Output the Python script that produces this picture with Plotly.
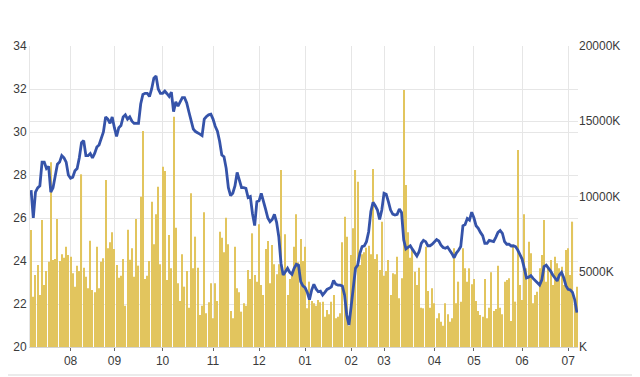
import plotly.graph_objects as go

# Daily closing price (left axis)
price = [
    27.3, 26.0, 27.2, 27.4, 27.5, 28.6, 28.6, 28.3, 28.4, 27.2,
    27.4, 27.9, 28.5, 28.6, 28.9, 28.8, 28.6, 28.0, 27.85, 27.9,
    28.2, 28.3, 28.8, 29.5, 29.6, 28.9, 28.9, 29.0, 28.8, 29.0,
    29.3, 29.4, 29.7, 30.0, 30.7, 30.6, 30.4, 30.7, 30.2, 29.8,
    30.2, 30.3, 30.7, 30.8, 30.6, 30.7, 30.5, 30.4, 30.4, 30.4,
    31.3, 31.75, 31.8, 31.8, 31.65, 32.0, 32.5, 32.6, 32.0, 31.8,
    31.8, 31.9, 31.78, 31.65, 31.85, 30.95, 31.4, 31.2, 31.4, 31.6,
    31.6, 31.35, 30.93, 30.5, 30.14, 30.02, 29.94, 29.9, 29.83, 30.6,
    30.72, 30.8, 30.83, 30.6, 30.27, 30.04, 29.57, 28.93, 28.85, 28.31,
    27.41, 27.04, 27.15, 27.49, 28.12, 27.69, 27.41, 27.41, 27.38, 26.95,
    27.0, 26.2, 25.65, 26.76, 26.8, 27.15, 26.7, 26.4, 26.0, 25.83,
    25.93, 26.17, 25.8, 25.13, 23.9, 23.35, 23.5, 23.66, 23.47, 23.38,
    23.66, 23.85, 23.8, 23.04, 22.84, 22.76, 22.54, 22.2, 22.65, 22.92,
    22.7, 22.57, 22.6, 22.42, 22.54, 22.68, 22.73, 22.8, 23.1, 22.92,
    22.88, 22.88, 22.84, 22.42, 21.49, 21.02, 21.88, 22.81, 23.66, 23.81,
    24.36, 24.67, 24.7, 24.9, 25.36, 26.3, 26.73, 26.57, 26.37, 25.93,
    26.37, 27.15, 27.1, 26.76, 26.37, 26.18, 26.14, 26.17, 26.42, 26.26,
    24.98, 24.56, 24.62, 24.71, 24.54, 24.4, 24.23, 24.43, 24.82, 24.96,
    24.9, 24.71, 24.71, 24.78, 24.9, 25.0, 24.93, 24.74, 24.63, 24.59,
    24.65, 24.51, 24.34, 24.15, 24.37, 24.5, 24.67, 25.64, 25.7, 25.98,
    25.9, 26.27, 26.01, 25.64, 25.52, 25.33, 25.18, 24.82, 24.82, 24.96,
    24.93, 24.9, 25.1, 25.33, 25.42, 25.29, 24.9, 24.78, 24.78, 24.7,
    24.71, 24.67, 24.51, 24.28, 24.09, 23.66, 23.21, 23.25, 23.32, 23.19,
    23.09, 22.98, 22.88, 23.12, 23.74, 23.81, 23.69, 23.53, 23.35, 23.22,
    23.07, 23.35, 23.47, 23.22, 22.85, 22.68, 22.65, 22.54, 22.2, 21.6,
]

# Daily volume in thousands (right axis)
volume_k = [
    7775, 3345, 4784, 5449, 3455, 8439, 4120, 5050, 5671, 12270,
    5781, 5848, 8506, 5715, 6158, 5936, 6667, 6113, 6003, 4895,
    4010, 5405, 5050, 11474, 5272, 4674, 3897, 7066, 3788, 3633,
    6667, 3897, 5671, 5892, 11097, 6556, 6955, 7620, 6512, 5449,
    4608, 4740, 5848, 2747, 7797, 5803, 6556, 4674, 8506, 5405,
    9990, 14353, 4519, 4740, 5715, 9657, 6822, 8815, 10654, 5493,
    11984, 11695, 4452, 7442, 5228, 15306, 7929, 4231, 3057, 6158,
    4010, 5050, 2614, 10211, 5228, 7332, 5272, 2126, 2747, 8949,
    2237, 2968, 4231, 1905, 4231, 3057, 7664, 7266, 6291, 8595,
    6822, 2392, 1905, 6667, 3897, 3633, 2348, 2902, 2747, 5117,
    4519, 7553, 4784, 4342, 8151, 4120, 3455, 6512, 7044, 4231,
    6778, 5493, 4829, 5493, 11762, 4895, 7487, 3455, 4519, 5006,
    6667, 8815, 5626, 7177, 5715, 6667, 2570, 4342, 3057, 2902,
    2747, 3123, 2968, 3013, 2016, 2459, 2170, 3013, 3455, 1905,
    2016, 2237, 6955, 8662, 7332, 1418, 6113, 7885, 11762, 10987,
    5449, 6158, 6291, 6600, 6733, 6158, 11828, 5848, 6158, 5117,
    8328, 4740, 5050, 5781, 3455, 4895, 4829, 6003, 3234, 4563,
    17078, 10765, 7620, 5936, 6446, 5006, 4120, 5272, 2614, 2570,
    6667, 3721, 2614, 3897, 2902, 1905, 2237, 1683, 1418, 2902,
    2170, 1683, 1905, 6556, 2902, 4342, 3013, 6556, 5228, 4342,
    5228, 4165, 4519, 3057, 2392, 2126, 2016, 4519, 1905, 2614,
    4962, 2392, 2525, 5405, 2614, 2170, 4342, 4452, 4563, 1728,
    6667, 3013, 13091, 4120, 3123, 8815, 5228, 6999, 6224, 2902,
    3455, 3677, 5228, 6113, 8439, 4342, 5228, 5781, 4120, 6003,
    5559, 5228, 5339, 4120, 6446, 6556, 4784, 8328, 2791, 4000,
]

# Month ticks: label and trading-day index of first session of the month
month_labels = ["08", "09", "10", "11", "12", "01", "02", "03", "04", "05", "06", "07"]
month_start_idx = [18, 38, 60, 83, 104, 125, 146, 161, 184, 202, 224, 245]

price_ticks = [20, 22, 24, 26, 28, 30, 32, 34]
volume_ticks = [0, 5000, 10000, 15000, 20000]
volume_tick_text = ["K", "5000K", "10000K", "15000K", "20000K"]

days = list(range(len(price)))

GRID = "#e6e6e6"
FONT = dict(family="Liberation Sans, Arial, sans-serif", size=12, color="#3a3a3a")

fig = go.Figure()
fig.add_trace(go.Bar(
    x=days, y=volume_k, yaxis="y",
    marker=dict(color="#e2c55e", line=dict(width=0)),
    hoverinfo="skip",
))
fig.add_trace(go.Scatter(
    x=days, y=price, yaxis="y2", mode="lines",
    line=dict(color="#3553a9", width=2.8),
))

# the page body adds an 8px margin, so the figure is 8px smaller than the window
fig.update_layout(
    width=632, height=369,
    margin=dict(l=22, r=62, t=38, b=30, pad=0, autoexpand=False),
    paper_bgcolor="white", plot_bgcolor="white",
    showlegend=False, bargap=0.5,
    font=FONT,
    xaxis=dict(
        range=[-0.5, len(days) - 0.5], automargin=False,
        tickmode="array", tickvals=month_start_idx, ticktext=month_labels,
        showgrid=True, gridcolor=GRID, gridwidth=1,
        ticks="outside", ticklen=3, tickcolor="#666", tickwidth=1,
        showline=True, linecolor="#d4d4d4", zeroline=False,
        tickfont=FONT,
    ),
    yaxis=dict(
        side="right", range=[0, 20000], automargin=False,
        tickmode="array", tickvals=volume_ticks, ticktext=volume_tick_text,
        showgrid=True, gridcolor=GRID, zeroline=False, showline=False,
        ticks="", tickfont=FONT,
    ),
    yaxis2=dict(
        overlaying="y", side="left", range=[20, 34], automargin=False,
        tickmode="array", tickvals=price_ticks,
        showgrid=True, gridcolor=GRID, zeroline=False,
        showline=True, linecolor="#e6e6e6",
        ticks="", tickfont=FONT,
    ),
    shapes=[dict(
        type="line", xref="paper", yref="paper",
        x0=-30 / 548, x1=610 / 548, y0=-28 / 301, y1=-28 / 301,
        line=dict(color="#e4e4e4", width=1.5),
    )],
)

fig.write_html("out.html")
